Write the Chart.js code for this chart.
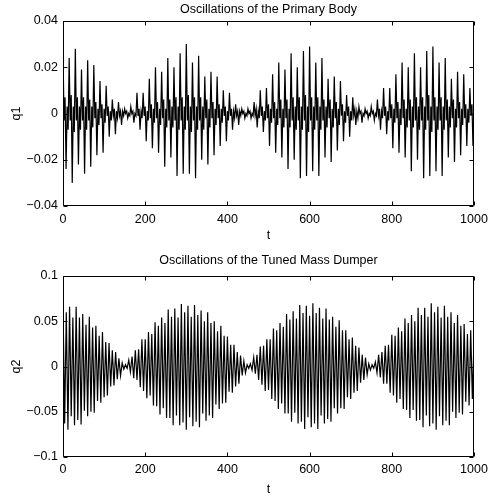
<!DOCTYPE html>
<html>
<head>
<meta charset="utf-8">
<script src="https://cdn.jsdelivr.net/npm/chart.js@4/dist/chart.umd.min.js"></script>
<style>
  html, body { margin: 0; padding: 0; background: #fff; }
  #wrap { position: relative; width: 488px; height: 502px; }
  #c1 { position: absolute; left: 0; top: 0; }
  #c2 { position: absolute; left: 0; top: 250px; }
</style>
</head>
<body>
<div id="wrap">
  <canvas id="c1" width="488" height="250"></canvas>
  <canvas id="c2" width="488" height="252"></canvas>
</div>
<script>
// ---- data ----
const titles = ["Oscillations of the Primary Body", "Oscillations of the Tuned Mass Dumper"];
const yNames = ["q1", "q2"];
const xName = "t";
const xTicks = [0, 200, 400, 600, 800, 1000];
const xTickLabels = ["0", "200", "400", "600", "800", "1000"];
const y1Ticks = [-0.04, -0.02, 0, 0.02, 0.04];
const y1TickLabels = ["\u22120.04", "\u22120.02", "0", "0.02", "0.04"];
const y2Ticks = [-0.1, -0.05, 0, 0.05, 0.1];
const y2TickLabels = ["\u22120.1", "\u22120.05", "0", "0.05", "0.1"];

// sampling of the time axis (t = start + index * step)
const q1Start = 0, q1Step = 2.5;
const q2Start = 0, q2Step = 4;

// q1: primary body displacement
const q1 = [
.028,-.003,.007,-.024,.003,-.007, .024,-.003,.008,-.030,.003,-.008, .028,-.003,.007,-.022,.003,-.007,
.019,-.003,.007,-.026,.003,-.007, .023,-.003,.006,-.023,.003,-.006, .021,-.002,.005,-.018,.002,-.005,
.014,-.002,.004,-.017,.002,-.004, .012,-.001,.003,-.010,.001,-.003, .006,-.001,.002,-.009,.001,-.002,
.005,-.001,.001,-.005,.001,-.001, .002,0,.001,-.002,0,-.001, .003,0,.001,-.004,0,-.001,
.009,-.001,.002,-.007,.001,-.002, .009,-.001,.003,-.012,.001,-.003, .015,-.002,.004,-.015,.002,-.004,
.020,-.002,.005,-.017,.002,-.005, .018,-.002,.006,-.023,.002,-.006, .024,-.003,.006,-.019,.003,-.006,
.020,-.003,.007,-.027,.003,-.007, .026,-.003,.007,-.026,.003,-.007, .030,-.003,.008,-.026,.003,-.008,
.022,-.003,.007,-.028,.003,-.007, .025,-.003,.007,-.020,.003,-.007, .016,-.002,.006,-.022,.002,-.006,
.018,-.002,.005,-.018,.002,-.005, .016,-.002,.004,-.014,.002,-.004, .010,-.001,.003,-.012,.001,-.003,
.009,-.001,.002,-.007,.001,-.002, .004,-.001,.001,-.005,.001,-.001, .002,0,.001,-.002,0,-.001,
.002,0,.001,-.002,0,-.001, .005,-.001,.002,-.006,.001,-.002, .010,-.001,.003,-.008,.001,-.003,
.011,-.002,.004,-.014,.002,-.004, .017,-.002,.005,-.017,.002,-.005, .022,-.002,.006,-.019,.002,-.006,
.019,-.002,.006,-.024,.002,-.006, .026,-.003,.007,-.020,.003,-.007, .020,-.003,.007,-.028,.003,-.007,
.027,-.003,.008,-.027,.003,-.008, .029,-.003,.007,-.025,.003,-.007, .022,-.003,.007,-.027,.003,-.007,
.024,-.003,.006,-.019,.003,-.006, .015,-.002,.006,-.021,.002,-.006, .016,-.002,.005,-.016,.002,-.005,
.014,-.001,.004,-.012,.001,-.004, .008,-.001,.003,-.010,.001,-.003, .007,-.001,.002,-.005,.001,-.002,
.003,0,.001,-.004,0,-.001, .002,0,.001,-.002,0,-.001, .003,0,.001,-.003,0,-.001,
.006,-.001,.002,-.007,.001,-.002, .011,-.001,.003,-.009,.001,-.003, .011,-.002,.004,-.015,.002,-.004,
.017,-.002,.005,-.017,.002,-.005, .022,-.002,.006,-.019,.002,-.006, .020,-.003,.006,-.025,.003,-.006,
.026,-.003,.007,-.020,.003,-.007, .020,-.003,.007,-.028,.003,-.007, .027,-.003,.008,-.027,.003,-.008,
.029,-.003,.007,-.025,.003,-.007, .022,-.003,.007,-.027,.003,-.007, .024,-.003,.006,-.019,.003,-.006,
.015,-.002,.006,-.021,.002,-.006, .018,-.002,.005,-.018,.002,-.005, .017,-.002,.004,-.014,.002,-.004,
.011,-.001,.004,-.014,.001
];

// q2: tuned mass damper displacement
const q2 = [
.070,-.063, .060,-.070, .066,-.055, .054,-.065, .066,-.059, .054,-.064, .058,-.049, .046,-.055,
.055,-.050, .043,-.051, .045,-.038, .034,-.040, .038,-.034, .027,-.032, .026,-.022, .018,-.021,
.016,-.014, .009,-.010, .004,-.003, .002,-.002, .007,-.006, .011,-.013, .018,-.015, .019,-.023,
.030,-.027, .030,-.035, .038,-.032, .036,-.043, .049,-.044, .045,-.053, .054,-.046, .048,-.057,
.063,-.057, .055,-.065, .064,-.054, .054,-.065, .069,-.062, .060,-.070, .067,-.056, .055,-.066,
.068,-.061, .057,-.067, .062,-.052, .050,-.060, .060,-.054, .048,-.057, .050,-.042, .039,-.047,
.045,-.041, .034,-.040, .033,-.028, .024,-.029, .024,-.022, .016,-.019, .012,-.010, .006,-.007,
.002,-.002, .003,-.004, .010,-.008, .013,-.015, .022,-.020, .023,-.027, .030,-.026, .030,-.036,
.042,-.038, .040,-.047, .048,-.041, .044,-.052, .058,-.052, .052,-.061, .061,-.051, .053,-.063,
.068,-.061, .059,-.069, .067,-.056, .056,-.067, .070,-.063, .059,-.069, .065,-.054, .053,-.063,
.064,-.058, .052,-.061, .055,-.046, .044,-.052, .051,-.046, .040,-.047, .040,-.034, .030,-.036,
.032,-.029, .023,-.027, .021,-.018, .013,-.015, .010,-.009, .003,-.004, .002,-.002, .005,-.007,
.013,-.012, .016,-.019, .023,-.019, .024,-.029, .035,-.032, .034,-.040, .043,-.036, .039,-.047,
.053,-.048, .048,-.057, .057,-.048, .050,-.060, .065,-.059, .057,-.067, .065,-.054, .055,-.066,
.070,-.063, .060,-.070, .066,-.055, .054,-.065, .067,-.060, .055,-.065, .060,-.050, .048,-.057,
.057,-.051, .045,-.053, .047,-.039, .036,-.043, .040,-.036, .030
];

// ---- rendering ----
const FONT = '"Liberation Sans", Arial, Helvetica, sans-serif';
const FS = 12.5;

const framePlugin = {
  id: 'matlabFrame',
  afterDatasetsDraw(chart) {
    const { ctx, chartArea: a, scales: { x, y } } = chart;
    const L = Math.round(a.left) + 0.5, R = Math.round(a.right) - 0.5;
    const T = Math.round(a.top) + 0.5, B = Math.round(a.bottom) - 0.5;
    const len = 4;
    ctx.save();
    ctx.strokeStyle = '#000';
    ctx.lineWidth = 1;
    ctx.beginPath();
    ctx.rect(L, T, R - L, B - T);
    x.ticks.forEach(t => {
      const px = Math.round(x.getPixelForValue(t.value)) + 0.5;
      ctx.moveTo(px, B); ctx.lineTo(px, B - len);
      ctx.moveTo(px, T); ctx.lineTo(px, T + len);
    });
    y.ticks.forEach(t => {
      const py = Math.round(y.getPixelForValue(t.value)) + 0.5;
      ctx.moveTo(L, py); ctx.lineTo(L + len, py);
      ctx.moveTo(R, py); ctx.lineTo(R - len, py);
    });
    ctx.stroke();
    ctx.restore();
  }
};

function toPoints(values, start, step) {
  return values.map((v, i) => ({ x: start + i * step, y: v }));
}

function makeChart(id, opt) {
  return new Chart(document.getElementById(id), {
    type: 'line',
    data: {
      datasets: [{
        data: toPoints(opt.values, opt.start, opt.step),
        borderColor: '#000',
        borderWidth: 1.2,
        pointRadius: 0,
        tension: 0,
        fill: false
      }]
    },
    options: {
      responsive: false,
      animation: false,
      devicePixelRatio: 1,
      parsing: false,
      layout: { padding: { left: 0, right: 14, top: 0, bottom: 0 } },
      plugins: {
        legend: { display: false },
        tooltip: { enabled: false },
        title: {
          display: true,
          text: opt.title,
          fullSize: false,
          color: '#000',
          font: { family: FONT, size: FS, weight: 'normal', lineHeight: 1.2 },
          padding: opt.titlePad
        }
      },
      scales: {
        x: {
          type: 'linear',
          min: 0, max: 1000,
          afterBuildTicks: s => { s.ticks = xTicks.map(v => ({ value: v })); },
          afterFit: s => { s.height = opt.xHeight; s.paddingLeft = 0; s.paddingRight = 0; },
          grid: { display: false, drawTicks: false },
          border: { display: false },
          ticks: {
            color: '#000',
            font: { family: FONT, size: FS },
            padding: opt.xTickPad,
            maxRotation: 0,
            autoSkip: false,
            callback: v => xTickLabels[xTicks.indexOf(v)]
          },
          title: {
            display: true, text: xName, color: '#000',
            font: { family: FONT, size: FS, lineHeight: 1.2 },
            padding: { top: 0, bottom: opt.xTitlePad }
          }
        },
        y: {
          type: 'linear',
          min: opt.yTicks[0], max: opt.yTicks[opt.yTicks.length - 1],
          afterBuildTicks: s => { s.ticks = opt.yTicks.map(v => ({ value: v })); },
          afterFit: s => { s.width = 63; s.paddingTop = 0; s.paddingBottom = 0; },
          grid: { display: false, drawTicks: false },
          border: { display: false },
          ticks: {
            color: '#000',
            font: { family: FONT, size: FS },
            padding: 5,
            autoSkip: false,
            callback: v => {
              const i = opt.yTicks.findIndex(t => Math.abs(t - v) < 1e-9);
              return i >= 0 ? opt.yLabels[i] : '';
            }
          },
          title: {
            display: true, text: opt.yName, color: '#000',
            font: { family: FONT, size: FS, lineHeight: 1.2 },
            padding: { top: 9, bottom: 0 }
          }
        }
      }
    },
    plugins: [framePlugin]
  });
}

makeChart('c1', {
  values: q1, start: q1Start, step: q1Step,
  title: titles[0], yName: yNames[0],
  yTicks: y1Ticks, yLabels: y1TickLabels,
  titlePad: { top: 2, bottom: 4 },
  xHeight: 44, xTickPad: 6.5, xTitlePad: 6.5
});

makeChart('c2', {
  values: q2, start: q2Start, step: q2Step,
  title: titles[1], yName: yNames[1],
  yTicks: y2Ticks, yLabels: y2TickLabels,
  titlePad: { top: 3, bottom: 8 },
  xHeight: 45, xTickPad: 5.5, xTitlePad: 4.5
});
</script>
</body>
</html>
